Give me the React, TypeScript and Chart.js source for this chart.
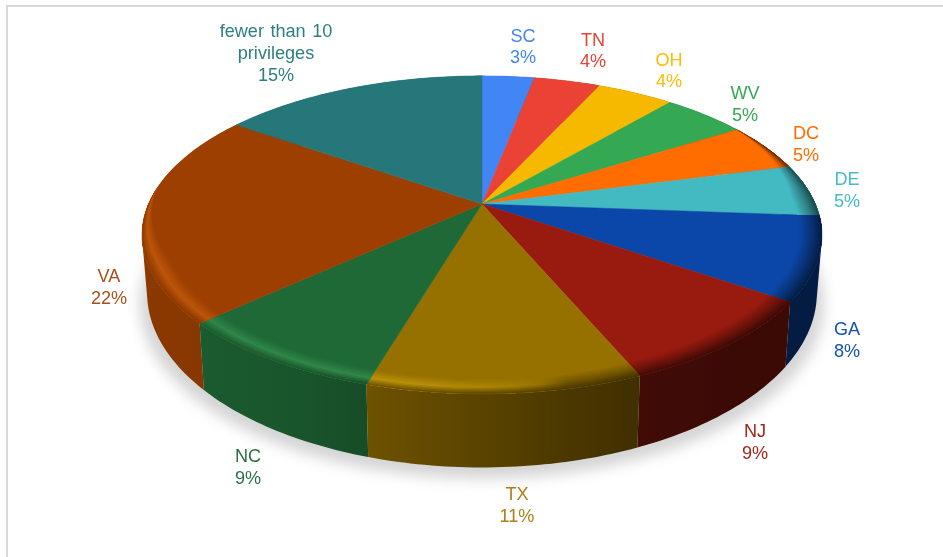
import React, { useEffect, useRef } from "react";
import { Chart, registerables } from "chart.js";

Chart.register(...registerables);

const categories = ["SC", "TN", "OH", "WV", "DC", "DE", "GA", "NJ", "TX", "NC", "VA", "fewer than 10 privileges"];
const shares = [3.0, 3.8, 4.4, 4.8, 4.9, 5.3, 8.45, 9.0, 10.9, 8.6, 21.6, 15.25];
const sliceColors = ["#4285F4", "#EA4335", "#F6B900", "#34A853", "#FF6D01", "#43BAC2", "#0B47A8", "#991A0E", "#977100", "#1F6936", "#9C3F00", "#26777A"];
const labelColors = ["#4285F4", "#EA4335", "#FBBC04", "#34A853", "#FF6D01", "#46BDC6", "#1551B5", "#A3241B", "#AB8016", "#2B7042", "#A8501B", "#2F7F82"];
const labelCentres = [[523, 47.5], [593, 51.5], [669, 71.5], [745, 105], [806, 145], [847, 191], [847, 341], [755, 443], [517, 506], [248, 468], [109, 288], [276, 54]];

const CX = 482;
const K = 0.194;
const HALF = 340;
const TOP = { y0: 204, A: 333.5, B: 153 };
const BOTTOM = { y0: 259, A: 328.5, B: 168 };
const STEP = Math.PI / 180;

type Rgb = [number, number, number];
const hex = (h: string): Rgb => [1, 3, 5].map((i) => parseInt(h.slice(i, i + 2), 16)) as Rgb;
const mix = (a: Rgb, b: Rgb, t: number): Rgb => [0, 1, 2].map((i) => a[i] + (b[i] - a[i]) * t) as Rgb;
const css = (c: Rgb) => `rgb(${c.map((n) => Math.round(clamp(n, 0, 255))).join(",")})`;
function clamp(n: number, lo = 0, hi = 1) {
  return Math.max(lo, Math.min(hi, n));
}

function project(theta: number, r: number, plane = TOP) {
  const u = r * Math.cos(theta);
  const v = r * Math.sin(theta);
  const d = 1 - K * v;
  return [CX + (plane.A * u) / d, plane.y0 + (plane.B * v) / d];
}

function ramp(u: number, table: number[][]) {
  for (let i = 1; i < table.length; i++) {
    if (u <= table[i][0]) {
      const t = (u - table[i - 1][0]) / (table[i][0] - table[i - 1][0]);
      return table[i - 1][1] + (table[i][1] - table[i - 1][1]) * t;
    }
  }
  return table[table.length - 1][1];
}

const WALL_LIGHT = [[-1.01, 0.9], [-0.5, 0.8], [-0.33, 0.72], [0.46, 0.42], [0.8, 0.38], [1.01, 0.4]];
const RIM_LIGHT = [[-1.01, 0.9], [-0.5, 1], [-0.2, 1], [0.1, 0.4], [0.35, -1], [1.01, -1]];
const STOPS = 24;

function arcAngles(from: number, to: number) {
  const list: number[] = [];
  for (let a = from; a < to; a += STEP) list.push(a);
  list.push(to);
  return list;
}

function xGradient(ctx: CanvasRenderingContext2D, colourAt: (u: number) => Rgb) {
  const g = ctx.createLinearGradient(CX - HALF, 0, CX + HALF, 0);
  for (let s = 0; s <= STOPS; s++) {
    const f = s / STOPS;
    g.addColorStop(f, css(colourAt(f * 2 - 1)));
  }
  return g;
}

const pie3d = {
  id: "pie3d",
  beforeDatasetsDraw(chart: Chart) {
    const ctx = chart.ctx;
    const arcs = chart.getDatasetMeta(0).data as any[];

    ctx.save();
    ctx.fillStyle = "#D9D9D9";
    ctx.fillRect(6, 5, 2, 552);
    ctx.fillRect(6, 5, 937, 2);
    ctx.restore();

    // soft ground shadow
    ctx.save();
    ctx.filter = "blur(7px)";
    ctx.fillStyle = "rgba(0,0,0,0.17)";
    ctx.beginPath();
    arcAngles(0, Math.PI * 2).forEach((a, i) => {
      const [x, y] = project(a, 1.0, { y0: BOTTOM.y0 + 11, A: BOTTOM.A + 7, B: BOTTOM.B });
      if (i) ctx.lineTo(x, y);
      else ctx.moveTo(x, y);
    });
    ctx.closePath();
    ctx.fill();
    ctx.restore();

    // side wall, back to front
    const order = arcs
      .map((arc, i) => ({ arc, i, depth: Math.sin((arc.startAngle + arc.endAngle) / 2) }))
      .sort((a, b) => a.depth - b.depth);
    order.forEach(({ arc, i }) => {
      const base = hex(sliceColors[i]);
      const angles = arcAngles(arc.startAngle, arc.endAngle);
      ctx.beginPath();
      for (let n = 0; n < angles.length - 1; n++) {
        const q = [project(angles[n], 1), project(angles[n + 1], 1), project(angles[n + 1], 1, BOTTOM), project(angles[n], 1, BOTTOM)];
        // same winding for every quad, so overlaps where the rim folds stay filled
        const area = q.reduce((s, p, j) => {
          const o = q[(j + 1) % 4];
          return s + p[0] * o[1] - o[0] * p[1];
        }, 0);
        if (area < 0) q.reverse();
        q.forEach(([x, y], j) => (j ? ctx.lineTo(x, y) : ctx.moveTo(x, y)));
        ctx.closePath();
      }
      ctx.fillStyle = xGradient(ctx, (u) => base.map((c) => c * ramp(u, WALL_LIGHT)) as Rgb);
      ctx.fill("nonzero");
    });

    // top face
    arcs.forEach((arc, i) => {
      ctx.beginPath();
      ctx.moveTo(CX, TOP.y0);
      arcAngles(arc.startAngle, arc.endAngle).forEach((a) => {
        const [x, y] = project(a, 1);
        ctx.lineTo(x, y);
      });
      ctx.closePath();
      ctx.fillStyle = sliceColors[i];
      ctx.strokeStyle = sliceColors[i];
      ctx.lineWidth = 0.5;
      ctx.fill();
      ctx.stroke();
    });

    // bevel along the front rim
    const BANDS = 10;
    const bevel = (a: number) => {
      const start = ramp(Math.cos(a), [[-1.01, -0.1], [0, -0.3], [0.4, -0.55], [1.01, -0.55]]);
      return 0.065 * clamp((Math.sin(a) - start) / 0.5);
    };
    arcs.forEach((arc, i) => {
      const base = hex(sliceColors[i]);
      const angles = arcAngles(arc.startAngle, arc.endAngle);
      for (let b = 0; b < BANDS; b++) {
        const t = (b + 0.5) / BANDS;
        ctx.beginPath();
        angles.forEach((a, n) => {
          const [x, y] = project(a, 1 - bevel(a) * (1 - b / BANDS));
          if (n) ctx.lineTo(x, y);
          else ctx.moveTo(x, y);
        });
        [...angles].reverse().forEach((a) => {
          const [x, y] = project(a, 1);
          ctx.lineTo(x, y);
        });
        ctx.closePath();
        ctx.fillStyle = xGradient(ctx, (u) => {
          const wall = base.map((c) => c * ramp(u, WALL_LIGHT)) as Rgb;
          const light = ramp(u, RIM_LIGHT);
          const bright = base.map((c, k) => c * 1.15 + [12, 14, 10][k]) as Rgb;
          const peak = light > 0 ? mix(base, bright, light) : mix(base, wall, 0.5);
          return t < 0.55 ? mix(base, peak, t / 0.55) : mix(peak, wall, (t - 0.55) / 0.45);
        });
        ctx.fill();
      }
    });

    return false;
  },
  afterDraw(chart: Chart) {
    const ctx = chart.ctx as any;
    const total = shares.reduce((s, n) => s + n, 0);
    ctx.save();
    ctx.font = '18.1px "Liberation Sans"';
    ctx.wordSpacing = "1.5px";
    ctx.textAlign = "center";
    ctx.textBaseline = "middle";
    categories.forEach((name, i) => {
      const words = name.split(" ");
      const lines: string[] = [];
      let line = "";
      words.forEach((w) => {
        const next = line ? `${line} ${w}` : w;
        if (ctx.measureText(next).width > 125 && line) {
          lines.push(line);
          line = w;
        } else line = next;
      });
      lines.push(line, `${Math.round((shares[i] / total) * 100)}%`);
      const [x, y] = labelCentres[i];
      ctx.fillStyle = labelColors[i];
      lines.forEach((text, j) => {
        ctx.fillText(text, x, y + (j - (lines.length - 1) / 2) * 21.6);
      });
    });
    ctx.restore();
  },
};

export default function App() {
  const ref = useRef<HTMLCanvasElement>(null);
  useEffect(() => {
    const chart = new Chart(ref.current as HTMLCanvasElement, {
      type: "pie",
      data: {
        labels: categories,
        datasets: [{ data: shares, backgroundColor: sliceColors, borderWidth: 0 }],
      },
      options: {
        animation: false,
        responsive: false,
        plugins: { legend: { display: false }, tooltip: { enabled: false } },
      },
      plugins: [pie3d],
    } as any);
    return () => chart.destroy();
  }, []);
  return (
    <div style={{ position: "fixed", left: 0, top: 0, width: 943, height: 557, background: "#fff", overflow: "hidden" }}>
      <canvas ref={ref} width={943} height={557} style={{ display: "block" }} />
    </div>
  );
}
